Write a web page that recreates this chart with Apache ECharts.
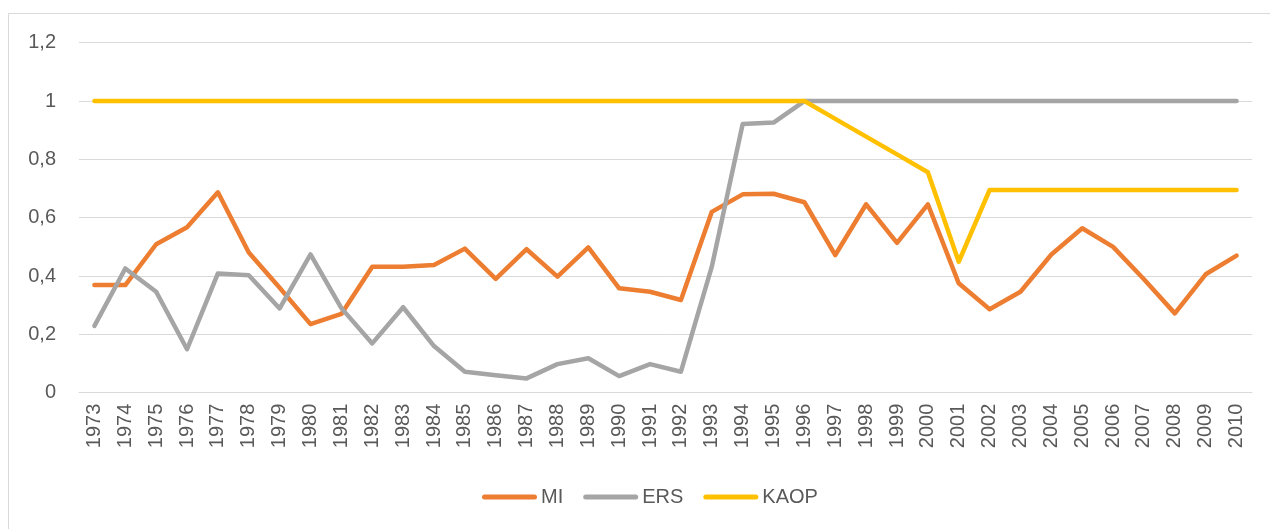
<!DOCTYPE html>
<html>
<head>
<meta charset="utf-8">
<script src="https://cdn.jsdelivr.net/npm/echarts@6/dist/echarts.min.js"></script>
<style>
  html, body { margin: 0; padding: 0; background: #fff; }
  #chart { width: 1270px; height: 529px; }
</style>
</head>
<body>
<div id="chart"></div>
<script>
const years = ['1973','1974','1975','1976','1977','1978','1979','1980','1981','1982','1983','1984','1985','1986','1987','1988','1989','1990','1991','1992','1993','1994','1995','1996','1997','1998','1999','2000','2001','2002','2003','2004','2005','2006','2007','2008','2009','2010'];
const miValues = [0.369,0.369,0.509,0.567,0.687,0.481,0.36,0.235,0.27,0.432,0.432,0.438,0.494,0.39,0.492,0.398,0.498,0.358,0.346,0.318,0.62,0.68,0.682,0.653,0.472,0.646,0.514,0.646,0.375,0.286,0.346,0.474,0.564,0.5,0.389,0.272,0.406,0.47];
const ersValues = [0.229,0.426,0.346,0.149,0.409,0.403,0.289,0.474,0.29,0.169,0.293,0.16,0.072,0.06,0.049,0.098,0.118,0.057,0.098,0.072,0.432,0.921,0.926,1,1,1,1,1,1,1,1,1,1,1,1,1,1,1];
const kaopValues = [1,1,1,1,1,1,1,1,1,1,1,1,1,1,1,1,1,1,1,1,1,1,1,1,0.939,0.878,0.817,0.756,0.449,0.695,0.695,0.695,0.695,0.695,0.695,0.695,0.695,0.695];
const seriesNames = ['MI','ERS','KAOP'];
const seriesColors = ['#ED7D31','#A5A5A5','#FFC000'];

const FONT = 'Liberation Sans';
const chart = echarts.init(document.getElementById('chart'), null, { renderer: 'canvas' });

function mkSeries(name, data, color) {
  return {
    name: name, type: 'line', data: data,
    symbol: 'none', showSymbol: false, smooth: false,
    lineStyle: { color: color, width: 4.5, cap: 'round', join: 'round' },
    itemStyle: { color: color },
    emphasis: { disabled: true },
    animation: false
  };
}

const legendIcon = 'path://M2.5,0 L52.5,0 A2.5,2.5 0 0 1 52.5,5 L2.5,5 A2.5,2.5 0 0 1 2.5,0 Z';

chart.setOption({
  animation: false,
  backgroundColor: '#fff',
  graphic: [{
    type: 'rect',
    shape: { x: 8.5, y: 13.5, width: 1280, height: 540 },
    style: { fill: 'none', stroke: '#d9d9d9', lineWidth: 1 },
    silent: true, z: -1
  }],
  grid: { left: 79, right: 18, top: 42.7, bottom: 136.3, containLabel: false },
  legend: {
    data: seriesNames.map(n => ({ name: n, icon: legendIcon })),
    bottom: 17,
    left: 477,
    itemWidth: 55,
    itemHeight: 5,
    itemGap: 20,
    textStyle: { fontFamily: FONT, fontSize: 20, color: '#595959', padding: [0,0,0,-1] },
    selectedMode: false
  },
  xAxis: {
    type: 'category',
    data: years,
    boundaryGap: true,
    axisLine: { show: true, lineStyle: { color: '#d9d9d9', width: 1 } },
    axisTick: { show: false },
    axisLabel: { rotate: 90, margin: 11, fontFamily: FONT, fontSize: 20, color: '#595959', interval: 0 }
  },
  yAxis: {
    type: 'value',
    min: 0, max: 1.2, interval: 0.2,
    axisLine: { show: false },
    axisTick: { show: false },
    splitLine: { lineStyle: { color: '#d9d9d9', width: 1 } },
    axisLabel: {
      margin: 23, fontFamily: FONT, fontSize: 20, color: '#595959',
      formatter: v => String(Math.round(v * 10) / 10).replace('.', ',')
    }
  },
  series: [
    mkSeries(seriesNames[0], miValues, seriesColors[0]),
    mkSeries(seriesNames[1], ersValues, seriesColors[1]),
    mkSeries(seriesNames[2], kaopValues, seriesColors[2])
  ]
});
</script>
</body>
</html>
